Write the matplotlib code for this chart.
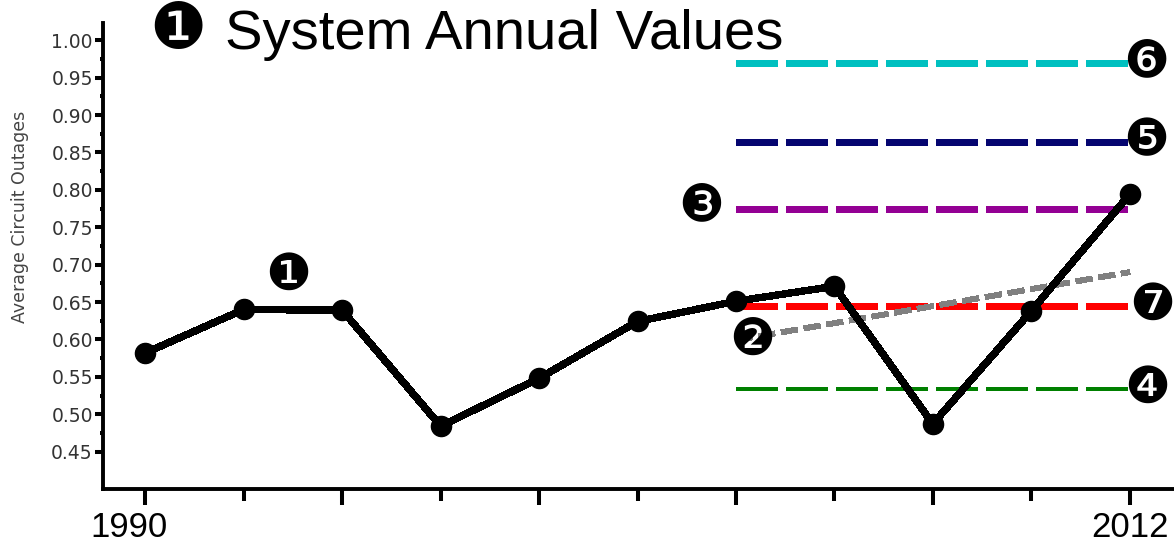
import matplotlib
matplotlib.use('Agg')
import matplotlib.pyplot as plt
import matplotlib.transforms as mtransforms
import numpy as np

# yearly values, 11 points from 1990 to 2012
years = ['1990', '', '', '', '', '', '', '', '', '', '2012']
outages = [0.582, 0.640, 0.639, 0.484, 0.548, 0.624, 0.651, 0.671, 0.487, 0.638, 0.794]

# reference lines over the last part of the period
ref_start, ref_end = 6, 10
ref_values = [0.970, 0.864, 0.774, 0.645, 0.534]
ref_colors = ['#00c0c0', '#050570', '#940094', '#ff0000', '#008000']
ref_widths = [5, 5, 5, 5, 2.9]
trend_x = [6, 10]
trend_y = [0.599, 0.690]

# circled numbers put on the chart
badge_labels = ['❶', '❷', '❸', '❹', '❺', '❻', '❼']
badge_x = [1.45, 6.17, 5.65, 10.18, 10.17, 10.17, 10.23]
badge_y = [0.685, 0.598, 0.778, 0.534, 0.865, 0.970, 0.645]

plt.rcParams['lines.scale_dashes'] = False

fig = plt.figure(figsize=(11.74, 5.46), dpi=100)
ax = fig.add_axes([103 / 1174, 57 / 546, 1 - 103 / 1174, (489 - 23.3) / 546])

x = np.arange(len(outages))

for v, c, w in zip(ref_values, ref_colors, ref_widths):
    ax.plot([ref_start, ref_end], [v, v], color=c, linewidth=w,
            dashes=(30, 6), dash_capstyle='butt', antialiased=False, zorder=2)

ax.plot(trend_x, trend_y, color='#808080', linewidth=3.6, dashes=(12, 5),
        dash_capstyle='butt', antialiased=False, zorder=3)

ax.plot(x, outages, color='black', linewidth=4.6, antialiased=False, zorder=5)
ax.plot(x, outages, 'o', markersize=14.5, color='black', zorder=6)

for lab, bx, by in zip(badge_labels, badge_x, badge_y):
    ax.text(bx, by, lab, fontsize=37, family='DejaVu Sans', ha='center', va='center', zorder=10)

ax.set_xlim(-0.43, 10.45)
ax.set_ylim(0.40, 1.0226)

ax.set_xticks(x[::2])
ax.set_xticklabels(years[::2], fontsize=25, family='Liberation Sans')
ax.set_xticks(x[1::2], minor=True)
yt = np.arange(0.45, 1.001, 0.05)
ax.set_yticks(yt)
ax.set_yticklabels(['%.2f' % v for v in yt], fontsize=13.5, color='#333333')
ax.set_yticks(np.arange(0.475, 0.99, 0.05), minor=True)

ax.tick_params(axis='x', which='major', length=11.5, width=2.9, pad=4)
ax.tick_params(axis='x', which='minor', length=8.8, width=2.9)
ax.tick_params(axis='y', which='major', length=5.8, width=2.9, pad=1.5)
ax.tick_params(axis='y', which='minor', length=2.5, width=2.9)

# nudge the first year label to the left
lab0 = ax.get_xticklabels()[0]
lab0.set_transform(lab0.get_transform() + mtransforms.ScaledTranslation(-16 / 100, 0, fig.dpi_scale_trans))

for s in ['top', 'right']:
    ax.spines[s].set_visible(False)
for s in ['left', 'bottom']:
    ax.spines[s].set_linewidth(2.8)

fig.text(178 / 1174, 1 - 30 / 546, '❶', fontsize=46, family='DejaVu Sans',
         ha='center', va='center')
fig.text(225 / 1174, 1 - 49 / 546, 'System Annual Values', fontsize=40.5,
         family='Liberation Sans', va='baseline')
fig.text(20 / 1174, (546 - 217) / 546, 'Average Circuit Outages', rotation=90,
         fontsize=12.5, color='#444444', ha='center', va='center')

fig.savefig('out.png', dpi=100)
